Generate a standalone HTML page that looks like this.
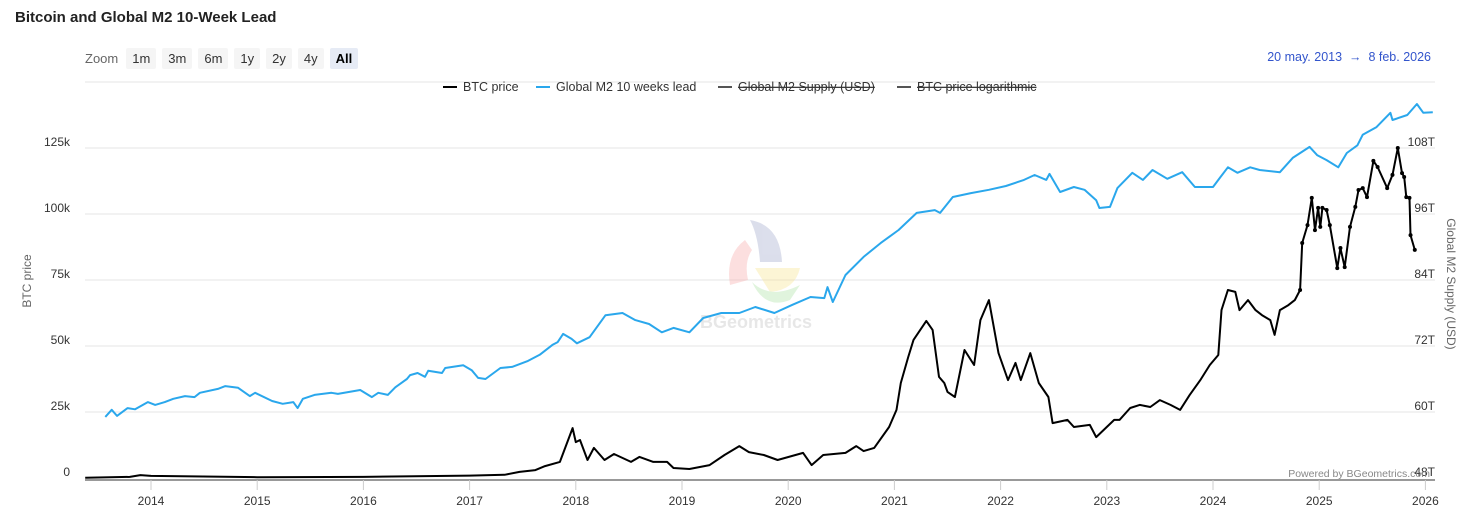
<!DOCTYPE html>
<html><head><meta charset="utf-8">
<style>
body{margin:0;background:#fff;font-family:"Liberation Sans",sans-serif;}
#wrap{position:relative;width:1458px;height:511px;overflow:hidden;}
.title{position:absolute;left:15px;top:9px;font-size:15px;font-weight:bold;color:#222;}
.zoom{position:absolute;top:48px;left:85px;font-size:13px;color:#666;display:flex;align-items:center;gap:6px;}
.zb{background:#f5f5f5;padding:3px 6px;border-radius:2px;color:#333;}
.zb.act{background:#e6ebf5;font-weight:bold;color:#000;}
.range{position:absolute;right:27px;top:50px;font-size:12.5px;color:#3355cc;}
</style></head><body>
<div id="wrap">
<div class="title">Bitcoin and Global M2 10-Week Lead</div>
<div class="zoom"><span style="margin-right:2px">Zoom</span>
<span class="zb">1m</span>
<span class="zb">3m</span>
<span class="zb">6m</span>
<span class="zb">1y</span>
<span class="zb">2y</span>
<span class="zb">4y</span>
<span class="zb act">All</span></div>
<div class="range">20 may. 2013 &nbsp;→&nbsp; 8 feb. 2026</div>
<svg id="svg" width="1458" height="511" style="position:absolute;left:0;top:0"></svg>
</div>
<script>
const btcDates=[2013.38,2013.80,2013.90,2014.0,2015.0,2016.0,2017.0,2017.33,2017.47,2017.62,2017.71,2017.85,2017.97,2018.00,2018.04,2018.11,2018.17,2018.27,2018.36,2018.52,2018.60,2018.73,2018.86,2018.92,2019.07,2019.26,2019.40,2019.54,2019.63,2019.77,2019.90,2020.14,2020.22,2020.33,2020.54,2020.64,2020.71,2020.81,2020.95,2021.02,2021.06,2021.13,2021.18,2021.30,2021.36,2021.42,2021.47,2021.50,2021.57,2021.66,2021.75,2021.81,2021.89,2021.98,2022.07,2022.14,2022.19,2022.28,2022.36,2022.45,2022.49,2022.63,2022.69,2022.84,2022.90,2023.07,2023.12,2023.22,2023.31,2023.41,2023.50,2023.60,2023.69,2023.78,2023.88,2023.97,2024.05,2024.08,2024.14,2024.21,2024.25,2024.33,2024.40,2024.46,2024.54,2024.58,2024.63,2024.71,2024.77,2024.82,2024.84,2024.89,2024.93,2024.96,2024.99,2025.01,2025.03,2025.07,2025.10,2025.17,2025.20,2025.24,2025.29,2025.34,2025.37,2025.41,2025.45,2025.51,2025.55,2025.64,2025.69,2025.74,2025.78,2025.80,2025.82,2025.85,2025.86,2025.90];
const btcValues=[0.1,0.4,1.1,0.8,0.3,0.4,0.9,1.2,2.3,3.0,4.5,6.1,18.9,13.6,14.4,6.8,11.4,6.8,9.1,6.1,8.0,6.1,6.1,3.8,3.4,4.9,8.7,12.1,9.8,8.7,6.8,9.5,4.9,8.7,9.5,12.1,10.2,11.4,19.3,25.8,36.0,45.8,52.3,59.5,56.1,38.3,36.0,32.6,30.7,48.5,42.8,59.8,67.4,47.3,37.1,43.6,37.1,47.3,36.0,30.7,20.8,22.0,19.3,20.1,15.5,22.0,22.0,26.5,27.7,26.9,29.5,27.7,25.8,31.4,37.1,42.8,46.6,63.6,71.2,70.5,63.6,67.4,63.6,61.7,59.8,54.2,63.6,65.5,67.4,71.2,89.0,95.8,106.1,93.9,102.3,95.1,102.3,101.5,95.8,79.5,87.1,79.9,95.1,102.7,109.1,109.8,106.4,120.1,117.8,109.8,114.8,125.0,115.5,114.0,106.4,106.1,92.0,86.4];
const m2Dates=[2013.57,2013.63,2013.68,2013.78,2013.85,2013.97,2014.04,2014.13,2014.21,2014.32,2014.41,2014.46,2014.63,2014.70,2014.82,2014.93,2014.98,2015.14,2015.24,2015.34,2015.38,2015.43,2015.54,2015.70,2015.76,2015.97,2016.08,2016.14,2016.23,2016.30,2016.41,2016.44,2016.51,2016.58,2016.61,2016.74,2016.77,2016.94,2017.02,2017.08,2017.15,2017.29,2017.40,2017.55,2017.66,2017.78,2017.83,2017.88,2017.96,2018.01,2018.13,2018.28,2018.44,2018.56,2018.69,2018.81,2018.92,2019.07,2019.20,2019.37,2019.54,2019.69,2019.87,2020.04,2020.21,2020.34,2020.37,2020.42,2020.54,2020.71,2020.87,2021.04,2021.21,2021.38,2021.43,2021.55,2021.72,2021.89,2022.05,2022.22,2022.32,2022.43,2022.46,2022.56,2022.69,2022.79,2022.90,2022.93,2023.03,2023.10,2023.24,2023.34,2023.43,2023.57,2023.71,2023.83,2024.00,2024.07,2024.14,2024.23,2024.35,2024.44,2024.63,2024.75,2024.91,2024.98,2025.07,2025.18,2025.26,2025.36,2025.41,2025.54,2025.67,2025.69,2025.83,2025.92,2025.98,2026.07];
const m2Values=[59.1,60.4,59.3,60.7,60.5,61.8,61.3,61.8,62.4,62.9,62.7,63.5,64.2,64.7,64.4,62.9,63.5,62.0,61.5,61.8,60.7,62.4,63.1,63.5,63.3,64.0,62.7,63.5,63.1,64.5,66.0,66.7,67.1,66.4,67.5,67.1,68.0,68.5,67.6,66.2,66.0,68.0,68.2,69.3,70.4,72.2,72.7,74.2,73.3,72.5,73.6,77.6,78.0,76.7,76.0,74.5,75.3,74.5,77.1,78.0,78.0,79.1,78.0,79.5,80.9,80.7,82.7,80.0,84.9,88.2,90.7,93.1,96.2,96.7,96.2,99.1,99.8,100.4,101.1,102.2,103.1,102.2,103.3,100.0,100.9,100.4,98.5,97.1,97.3,100.7,103.5,102.2,104.0,102.4,103.6,100.9,100.9,102.7,104.5,103.5,104.5,104.0,103.6,106.2,108.2,106.7,105.8,104.5,107.1,108.5,110.4,111.8,114.4,113.1,114.0,116.0,114.4,114.5];
const leftTicks=[0,25,50,75,100,125];
const leftTickLabels=["0","25k","50k","75k","100k","125k"];
const rightTicks=[48,60,72,84,96,108];
const yearTicks=[2014,2015,2016,2017,2018,2019,2020,2021,2022,2023,2024,2025,2026];

const X=t=>151+(t-2014)*106.2;
const YL=v=>478-v*66/25;
const YR=v=>478-(v-48)*5.5;
const svg=document.getElementById('svg');
const NS='http://www.w3.org/2000/svg';
function mk(tag,attrs,parent){const e=document.createElementNS(NS,tag);for(const k in attrs)e.setAttribute(k,attrs[k]);(parent||svg).appendChild(e);return e;}

let e;
e=mk('line',{x1:85,x2:1435,y1:82,y2:82,stroke:'#e6e6e6'});


leftTicks.forEach((v,i)=>{
  if(v>0){e=mk('line',{x1:85,x2:1435,y1:YL(v),y2:YL(v),stroke:'#e6e6e6'});
  
  }
  e=mk('text',{x:70,y:YL(v)-2,'text-anchor':'end','font-size':12,fill:'#333'});e.textContent=leftTickLabels[i];
  
  
});
rightTicks.forEach(v=>{
  e=mk('text',{x:1435,y:YR(v)-2,'text-anchor':'end','font-size':12,fill:'#333'});e.textContent=v+'T';
  
  
});
e=mk('line',{x1:85,x2:1435,y1:480,y2:480,stroke:'#333'});


yearTicks.forEach(y=>{
  e=mk('line',{x1:X(y),x2:X(y),y1:480,y2:490,stroke:'#ccc'});
  
  
  e=mk('text',{x:X(y),y:505,'text-anchor':'middle','font-size':12,fill:'#333'});e.textContent=y;
  
  
});
e=mk('text',{x:31,y:281,'text-anchor':'middle','font-size':12,fill:'#666',transform:'rotate(-90 31 281)'});e.textContent='BTC price';


e=mk('text',{x:1447,y:284,'text-anchor':'middle','font-size':12,fill:'#666',transform:'rotate(90 1447 284)'});e.textContent='Global M2 Supply (USD)';



const wm=mk('g',{opacity:0.35});


mk('path',{d:'M750 220 Q780 225 782 262 L760 262 Q758 235 750 220Z',fill:'#9aa3c8'},wm);
mk('path',{d:'M745 240 Q725 255 730 285 L748 280 Q744 262 752 250Z',fill:'#f7a6a6'},wm);
mk('path',{d:'M755 268 L800 268 Q795 290 770 292Z',fill:'#f7e38a'},wm);
mk('path',{d:'M752 282 Q770 300 800 285 L790 300 Q765 310 752 282Z',fill:'#a8e0a0'},wm);
e=mk('text',{x:700,y:328,'font-size':18,'font-weight':'bold',fill:'#bbb'},wm);e.textContent='BGeometrics';

function path(dates,vals,yf){return dates.map((d,i)=>(i?'L':'M')+X(d).toFixed(1)+' '+yf(vals[i]).toFixed(1)).join(' ');}
e=mk('path',{d:path(m2Dates,m2Values,YR),fill:'none',stroke:'#2aa7ec','stroke-width':2,'stroke-linejoin':'round'});


e=mk('path',{d:path(btcDates,btcValues,YL),fill:'none',stroke:'#000','stroke-width':2,'stroke-linejoin':'round'});


btcDates.forEach((d,i)=>{ if(d>=2024.8){
  const c=mk('circle',{cx:X(d),cy:YL(btcValues[i]),r:2,fill:'#000'});
  
  
}});

const leg=[['BTC price','#000',443,false],['Global M2 10 weeks lead','#2aa7ec',536,false],['Global M2 Supply (USD)','#555',718,true],['BTC price logarithmic','#555',897,true]];
leg.forEach(l=>{
  const g=mk('g',{});
  
  
  mk('line',{x1:l[2],x2:l[2]+14,y1:87,y2:87,stroke:l[1],'stroke-width':2},g);
  const t=mk('text',{x:l[2]+20,y:91,'font-size':12.5,fill:'#333','text-decoration':l[3]?'line-through':'none'},g);t.textContent=l[0];
});
e=mk('text',{x:1430,y:477,'text-anchor':'end','font-size':10.5,fill:'#888'});e.textContent='Powered by BGeometrics.com';


</script>
</body></html>
